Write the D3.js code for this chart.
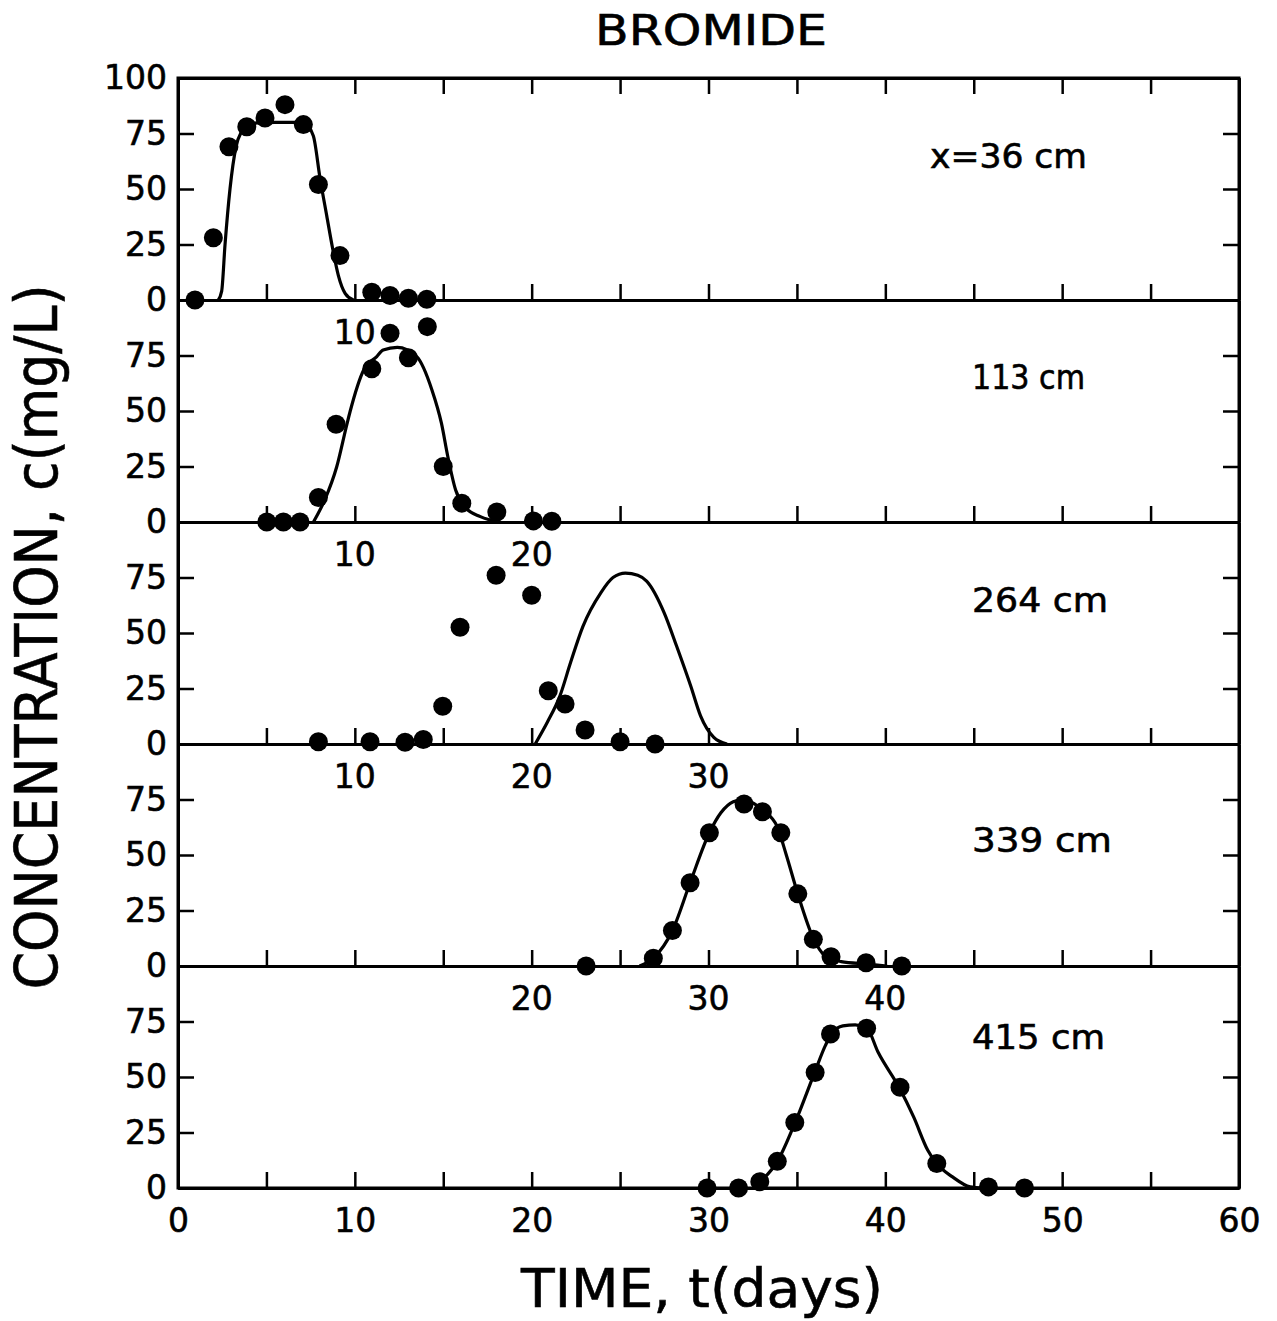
<!DOCTYPE html>
<html>
<head>
<meta charset="utf-8">
<script src="https://cdn.jsdelivr.net/npm/d3@7"></script>
<style>
  html, body { margin: 0; padding: 0; background: #fff; }
  svg { display: block; font-family: "DejaVu Sans", sans-serif; }
</style>
</head>
<body>
<svg id="chart" width="1277" height="1321"></svg>
<script>
// ---------------- DATA ----------------
const panelLabels = ["x=36 cm", "113 cm", "264 cm", "339 cm", "415 cm"];
const xTickValues = [0, 5, 10, 15, 20, 25, 30, 35, 40, 45, 50, 55, 60];
const xTickLabels = [0, 10, 20, 30, 40, 50, 60];
const yTickValuesTop = [0, 25, 50, 75, 100];
const yTickValues = [0, 25, 50, 75];
// leftover tick-label numbers printed inside panels 2-5
const innerLabels = [[], [10], [10, 20], [10, 20, 30], [20, 30, 40]];

// observed points (t in days, c in mg/L)
const obs1T = [0.96, 2.0, 2.88, 3.89, 4.92, 6.05, 7.09, 7.94, 9.16, 10.96, 11.99, 13.03, 14.07];
const obs1C = [0, 28, 69, 78, 82, 88, 79, 52, 20, 3.5, 2, 0.8, 0.3];
const obs2T = [5.02, 5.96, 6.9, 7.94, 8.94, 10.96, 11.99, 13.03, 14.1, 15.0, 16.05, 18.03, 20.1, 21.14];
const obs2C = [0, 0, 0, 11, 44, 69, 85, 74, 88, 25, 8.5, 4.5, 0.5, 0.3];
const obs3T = [7.94, 10.86, 12.84, 13.87, 14.97, 15.95, 17.99, 20.0, 20.94, 21.89, 23.02, 25.0, 26.98];
const obs3C = [1, 1, 0.8, 2, 17, 52.6, 76, 67, 24, 18, 6.3, 1, 0];
const obs4T = [23.08, 26.88, 27.96, 28.96, 30.05, 32.01, 33.05, 34.09, 35.05, 35.93, 36.93, 38.91, 40.93];
const obs4C = [0, 3.5, 16, 37.5, 60, 73, 69.5, 60, 32.5, 12, 4.2, 1.5, 0];
const obs5T = [29.92, 31.7, 32.9, 33.89, 34.88, 36.03, 36.9, 38.94, 40.83, 42.91, 45.83, 47.87];
const obs5C = [0, 0, 2.8, 12, 29.5, 52, 69.4, 72, 45.4, 11, 0.5, 0];

// model curves
const fit1T = [2.28, 2.47, 2.66, 2.94, 3.28, 3.6, 4.07, 5.5, 7.09, 7.65, 8.03, 8.41, 8.75, 9.07, 9.45, 9.92];
const fit1C = [0, 4, 25, 50, 69, 76, 79.5, 80, 80, 74, 55, 38, 23, 11, 3, 0];
const fit2T = [7.66, 8.3, 8.98, 9.55, 9.74, 10.5, 11.24, 11.6, 12.4, 13.5, 14.36, 14.9, 15.26, 15.7, 16.2, 17.1, 18.2];
const fit2C = [0, 10, 25, 44, 50, 68.5, 74.5, 77.5, 78.7, 74.5, 59.5, 44.4, 29.4, 14.4, 6.9, 2.4, 0];
const fit3T = [20.2, 20.9, 21.6, 22.2, 22.9, 23.9, 24.6, 25.3, 26.0, 26.5, 27.5, 28.2, 29.0, 29.55, 30.3, 31.05];
const fit3C = [0, 10, 21.7, 36.7, 53, 68, 75, 77, 76, 73.4, 59, 44, 26, 12.7, 3, 0];
const fit4T = [26.1, 26.88, 27.96, 28.96, 30.05, 30.7, 31.4, 32.0, 32.6, 33.1, 33.9, 34.4, 35.05, 35.9, 36.6, 37.5, 39.0, 40.1];
const fit4C = [0, 3.5, 16, 37.5, 60, 69, 74, 75, 73, 70, 62.5, 50, 32.5, 13, 4.5, 2, 0.9, 0];
const fit5T = [32.6, 32.9, 33.9, 34.9, 36.0, 36.6, 37.0, 37.6, 38.3, 38.95, 39.6, 40.8, 41.6, 42.4, 42.9, 43.8, 44.8, 45.5];
const fit5C = [0, 2.5, 12, 29.5, 52, 64, 70, 73, 73.5, 72, 61, 45, 32, 17, 11, 5, 0.5, 0];

const obsT = [obs1T, obs2T, obs3T, obs4T, obs5T];
const obsC = [obs1C, obs2C, obs3C, obs4C, obs5C];
const fitT = [fit1T, fit2T, fit3T, fit4T, fit5T];
const fitC = [fit1C, fit2C, fit3C, fit4C, fit5C];

// ---------------- LAYOUT ----------------
const plotLeft = 178, plotRight = 1239, plotTop = 78, plotBottom = 1188;
const nPanels = 5;
const panelH = (plotBottom - plotTop) / nPanels;
const labelLayout = [
  {x: 930, y: 168, len: 157},
  {x: 972, y: 389, len: 113},
  {x: 972, y: 612, len: 136},
  {x: 972, y: 852, len: 140},
  {x: 972, y: 1049, len: 133}
];

const svg = d3.select("#chart");
const x = d3.scaleLinear().domain([0, 60]).range([plotLeft, plotRight]);

const line = d3.line().curve(d3.curveMonotoneX);

for (let i = 0; i < nPanels; i++) {
  const pTop = plotTop + i * panelH;
  const pZero = pTop + panelH;
  const y = d3.scaleLinear().domain([0, 100]).range([pZero, pTop]);
  const g = svg.append("g");

  // bottom axis (ticks pointing up)
  const bAxis = d3.axisBottom(x).tickValues(xTickValues).tickSizeInner(-16).tickSizeOuter(0)
    .tickPadding(21)
    .tickFormat(d => (i === nPanels - 1 && xTickLabels.includes(d)) ? d : "");
  g.append("g").attr("transform", `translate(0,${pZero})`).call(bAxis);

  if (i === 0) {
    const tAxis = d3.axisTop(x).tickValues(xTickValues).tickSizeInner(-16).tickSizeOuter(0).tickFormat("");
    g.append("g").attr("transform", `translate(0,${pTop})`).call(tAxis);
  }

  const lAxis = d3.axisLeft(y).tickValues(i === 0 ? yTickValuesTop : yTickValues)
    .tickSizeInner(-16).tickSizeOuter(0).tickPadding(11);
  g.append("g").attr("transform", `translate(${plotLeft},0)`).call(lAxis);

  const rAxis = d3.axisRight(y).tickValues(yTickValues.filter(v => v > 0))
    .tickSizeInner(-16).tickSizeOuter(0).tickFormat("");
  g.append("g").attr("transform", `translate(${plotRight},0)`).call(rAxis);

  // leftover labels inside panel
  g.selectAll("text.inner").data(innerLabels[i]).enter().append("text")
    .attr("class", "inner")
    .attr("x", d => x(d)).attr("y", pTop + 44)
    .attr("text-anchor", "middle").attr("font-size", 33)
    .attr("stroke", "#000").attr("stroke-width", 0.6).text(d => d);

  // model curve
  const pts = fitT[i].map((t, k) => [x(t), y(fitC[i][k])]);
  g.append("path").attr("d", line(pts))
    .attr("fill", "none").attr("stroke", "#000").attr("stroke-width", 3.2);

  // observations
  g.selectAll("circle").data(obsT[i].map((t, k) => [t, obsC[i][k]])).enter().append("circle")
    .attr("cx", d => x(d[0])).attr("cy", d => y(d[1])).attr("r", 9.5).attr("fill", "#000");

  // panel label
  const L = labelLayout[i];
  g.append("text").attr("x", L.x).attr("y", L.y).attr("font-size", 33)
    .attr("stroke", "#000").attr("stroke-width", 0.6)
    .attr("textLength", L.len).attr("lengthAdjust", "spacingAndGlyphs").text(panelLabels[i]);
}

// axis styling
svg.selectAll(".domain").attr("stroke", "#000").attr("stroke-width", 3);
svg.selectAll(".tick line").attr("stroke", "#000").attr("stroke-width", 2.5);
svg.selectAll(".tick text").attr("font-size", 33).attr("fill", "#000")
  .attr("stroke", "#000").attr("stroke-width", 0.6)
  .attr("font-family", "DejaVu Sans, sans-serif");

// frame
svg.append("rect").attr("x", plotLeft).attr("y", plotTop).attr("width", plotRight - plotLeft).attr("height", plotBottom - plotTop)
  .attr("fill", "none").attr("stroke", "#000").attr("stroke-width", 3);

// title and axis labels
svg.append("text").attr("x", 711).attr("y", 45).attr("text-anchor", "middle")
  .attr("font-size", 42).attr("stroke", "#000").attr("stroke-width", 0.6)
  .attr("textLength", 232).attr("lengthAdjust", "spacingAndGlyphs").text("BROMIDE");
svg.append("text").attr("x", 702).attr("y", 1307).attr("text-anchor", "middle")
  .attr("font-size", 54).attr("stroke", "#000").attr("stroke-width", 0.6)
  .attr("textLength", 362).attr("lengthAdjust", "spacingAndGlyphs").text("TIME, t(days)");
svg.append("text").attr("transform", "translate(57,637) rotate(-90)").attr("text-anchor", "middle")
  .attr("font-size", 58).attr("stroke", "#000").attr("stroke-width", 0.6)
  .attr("textLength", 705).attr("lengthAdjust", "spacingAndGlyphs")
  .text("CONCENTRATION, c(mg/L)");
</script>
</body>
</html>
